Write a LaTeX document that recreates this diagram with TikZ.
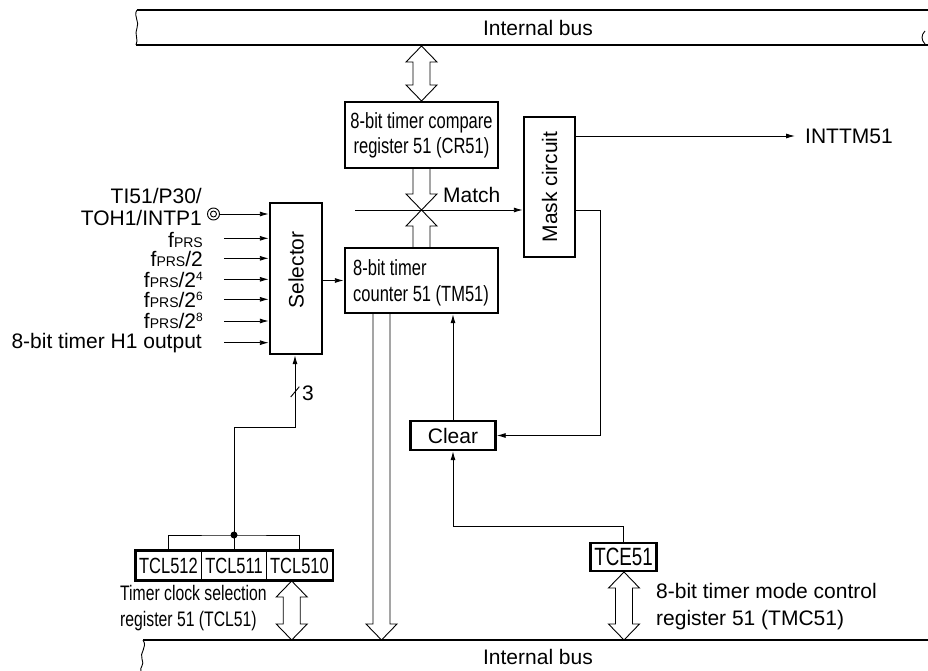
\documentclass[tikz,border=0pt]{standalone}
\usepackage{fontspec}
\setmainfont{Liberation Sans}
\newfontfamily\narrowf[FakeStretch=0.75]{Liberation Sans}
\usetikzlibrary{arrows.meta}
\newcommand{\fprs}{f{\fontsize{14}{14}\selectfont PRS}}
\newcommand{\supr}[1]{\raisebox{7pt}{\fontsize{12}{12}\selectfont #1}}
% hollow double arrow: x, ytop, ybottom
\newcommand{\hdbl}[3]{%
 \draw[hollow] (#1,#2) -- ({#1+15.5},{#2+16}) -- ({#1+8.5},{#2+16}) -- ({#1+8.5},{#3-16}) -- ({#1+15.5},{#3-16}) -- (#1,#3) -- ({#1-15.5},{#3-16}) -- ({#1-8.5},{#3-16}) -- ({#1-8.5},{#2+16}) -- ({#1-15.5},{#2+16}) -- cycle;}
% hollow down arrow: x, ytop (open), ytip
\newcommand{\hdown}[3]{%
 \draw[hollow] ({#1-8.5},#2) -- ({#1-8.5},{#3-16}) -- ({#1-15.5},{#3-16}) -- (#1,#3) -- ({#1+15.5},{#3-16}) -- ({#1+8.5},{#3-16}) -- ({#1+8.5},#2);}
% hollow up arrow: x, ybottom (open), ytip
\newcommand{\hup}[3]{%
 \draw[hollow] ({#1-8.5},#2) -- ({#1-8.5},{#3+16}) -- ({#1-15.5},{#3+16}) -- (#1,#3) -- ({#1+15.5},{#3+16}) -- ({#1+8.5},{#3+16}) -- ({#1+8.5},#2);}
\begin{document}
\begin{tikzpicture}[x=1pt,y=-1pt,
  every node/.style={inner sep=0pt},
  font=\fontsize{21}{24}\selectfont,
  box/.style={draw, line width=2.4pt, inner sep=0pt},
  cell/.style={draw, line width=0.9pt, minimum width=65.5pt, minimum height=29pt, font=\narrowf\fontsize{22}{22}\selectfont},
  conn/.style={line width=0.9pt},
  arr/.style={conn, -{Latex[length=9pt,width=5pt]}},
  hollow/.style={line width=0.9pt},
  bus/.style={line width=1.2pt}]
\useasboundingbox (0,0) rectangle (928,671);

% top bus
\draw[bus] (137,10) -- (928,10);
\draw[bus] (136,45) -- (928,45);
\draw[conn] (137,10) .. controls (133,16) and (140,22) .. (137,28) .. controls (134,34) and (139,40) .. (136,45);
\draw[conn] (925,31) .. controls (921,35) and (921,40) .. (925,44);
\node (ibtop) at (538,28) {Internal bus};

% bottom bus
\draw[bus] (143,640) -- (928,640);
\draw[conn] (143,640) .. controls (148,647) and (139,653) .. (142,659) .. controls (145,665) and (139,668) .. (141,671);
\node (ibbot) at (538,657) {Internal bus};

% boxes
\node[box, minimum width=153pt, minimum height=66pt, align=center, font=\narrowf\fontsize{22}{25}\selectfont] (cmp) at (421.5,135) {8-bit timer compare\\register 51 (CR51)};
\node[box, minimum width=153pt, minimum height=65pt] (cnt) at (421.5,280.5) {};
\node[anchor=west, align=left, font=\narrowf\fontsize{22}{26.5}\selectfont] (cntlbl) at (353,283) {8-bit timer\\counter 51 (TM51)};
\node[box, minimum width=51pt, minimum height=140pt] (mask) at (549.5,187) {};
\node[rotate=90] (masklbl) at (mask) {Mask circuit};
\node[box, minimum width=52pt, minimum height=151pt] (sel) at (296,278.5) {};
\node[rotate=90] (sellbl) at (296,270) {Selector};
\node[box, minimum width=85pt, minimum height=29pt] (clr) at (453,435.5) {Clear};
\node[box, minimum width=66pt, minimum height=28pt, font=\narrowf\fontsize{25}{25}\selectfont] (tce) at (623.5,557) {TCE51};

% TCL register
\node[cell] (c1) at (168.5,565.5) {TCL512};
\node[cell] (c2) at (234,565.5) {TCL511};
\node[cell] (c3) at (299.5,565.5) {TCL510};
\draw[line width=2.4pt] (c1.north west) rectangle (c3.south east);

% hollow arrows
\hdbl{421.5}{46}{101}
\hdown{421.5}{169}{210}
\hup{421.5}{247}{210}
\hdown{381.5}{314}{640}
\hdbl{291.7}{581}{640}
\hdbl{624}{572}{640}

% select bits
\coordinate (dot) at (234,535);
\draw[conn] (c1.north) |- (dot) -| (c3.north);
\draw[conn] (c2.north) -- (dot);
\fill (dot) circle (3.5pt);
\coordinate (bend) at (295,427);
\draw[arr] (dot) |- (bend) -- (bend |- sel.south);
\draw[conn] (290.7,397) -- (299.3,386.7);
\node (three) at (308,393) {3};

% inputs
\node[anchor=east, align=right, font=\fontsize{21}{22}\selectfont] (lti) at (202,207) {TI51/P30/\\TOH1/INTP1};
\coordinate (pin) at (213.5,214);
\draw[conn] (pin) circle (6pt);
\draw[conn] (pin) circle (3pt);
\draw[arr] ([xshift=6pt]pin) -- (pin -| sel.west);

\node[anchor=east] (i1) at (203,240) {\fprs};
\node[anchor=east] (i2) at (203,259) {\fprs/2};
\node[anchor=east] (i3) at (203,280) {\fprs/2\supr{4}};
\node[anchor=east] (i4) at (203,300) {\fprs/2\supr{6}};
\node[anchor=east] (i5) at (203,321) {\fprs/2\supr{8}};
\node[anchor=east] (i6) at (202,343) {8-bit timer H1 output};
\coordinate (s1) at (224,238.3);
\coordinate (s2) at (224,258.3);
\coordinate (s3) at (224,279.3);
\coordinate (s4) at (224,299.3);
\coordinate (s5) at (224,321);
\coordinate (s6) at (224,342.7);
\foreach \s in {s1,s2,s3,s4,s5,s6} \draw[arr] (\s) -- (\s -| sel.west);

% selector -> counter
\draw[arr] (sel.east |- cnt.west) -- (cnt.west);

% match
\coordinate (mstart) at (355,210);
\node[anchor=west] (match) at (443,195) {Match};
\draw[arr] (mstart) -- (mstart -| mask.west);

% mask outputs
\node[anchor=west, inner xsep=10pt] (int) at (795,136) {INTTM51};
\draw[arr] (mask.east |- int.west) -- (int.west);
\draw[arr] (mask.east |- mstart) -- ++(24,0) |- (clr.east);

% clear
\draw[arr] (clr.north) -- (clr.north |- cnt.south);
\draw[arr] (tce.north) -- ++(0,-15) -| (clr.south);

% labels
\node[anchor=west, align=left, font=\narrowf\fontsize{21}{26.7}\selectfont] (tcllbl) at (120,608) {Timer clock selection\\register 51 (TCL51)};
\node[anchor=west, align=left, font=\fontsize{21}{27}\selectfont] (tmclbl) at (656,607) {8-bit timer mode control\\register 51 (TMC51)};
\end{tikzpicture}
\end{document}
